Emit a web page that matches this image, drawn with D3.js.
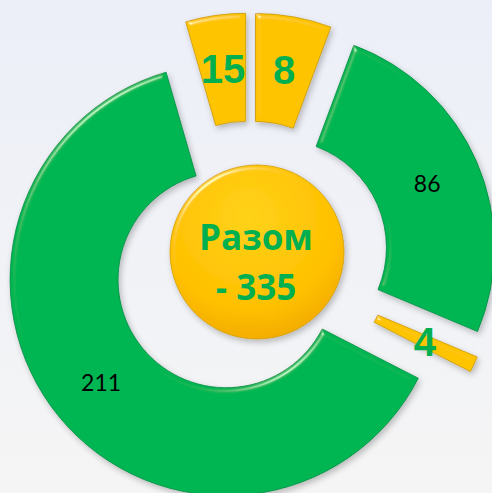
<!DOCTYPE html>
<html>
<head>
<meta charset="utf-8">
<script src="https://cdn.jsdelivr.net/npm/d3@7"></script>
<style>
  html, body { margin: 0; padding: 0; overflow: hidden; }
  svg { display: block; }
</style>
</head>
<body>
<svg id="chart"></svg>
<script>
// slice sizes, clockwise from 12 o'clock (slice widths)
const values = [19, 86, 4, 211, 15];
// the labels printed on the slices
const labels = ['8', '86', '4', '211', '15'];
const totalTitle = 'Разом';

const W = 492, H = 493;
const cx = 250, cy = 260;
const rIn = 108, rOut = 216;
const explode = 31;
const sliceColors = ['#ffc400', '#02b652', '#ffc400', '#02b652', '#ffc400'];

const svg = d3.select('#chart').attr('width', W).attr('height', H);
const defs = svg.append('defs');

const bg = defs.append('linearGradient').attr('id', 'bg')
  .attr('x1', 0).attr('y1', 0).attr('x2', 0).attr('y2', 1);
bg.append('stop').attr('offset', '0%').attr('stop-color', '#eceff8');
bg.append('stop').attr('offset', '100%').attr('stop-color', '#f5f5f5');

const ball = defs.append('radialGradient').attr('id', 'ball')
  .attr('cx', '45%').attr('cy', '30%').attr('r', '75%');
ball.append('stop').attr('offset', '0%').attr('stop-color', '#ffd21a');
ball.append('stop').attr('offset', '70%').attr('stop-color', '#ffc000');
ball.append('stop').attr('offset', '100%').attr('stop-color', '#f0a800');

// bevel + soft shadow, roughly like the office shape effect
const f = defs.append('filter').attr('id', 'bevel')
  .attr('x', '-10%').attr('y', '-10%').attr('width', '130%').attr('height', '130%');
f.append('feGaussianBlur').attr('in', 'SourceAlpha').attr('stdDeviation', 2.5).attr('result', 'blur');
const spec = f.append('feSpecularLighting').attr('in', 'blur')
  .attr('surfaceScale', 4).attr('specularConstant', 0.6).attr('specularExponent', 45)
  .attr('lighting-color', '#ffffff').attr('result', 'spec');
spec.append('feDistantLight').attr('azimuth', 235).attr('elevation', 30);
f.append('feComposite').attr('in', 'spec').attr('in2', 'SourceAlpha').attr('operator', 'in').attr('result', 'specIn');
f.append('feComposite').attr('in', 'SourceGraphic').attr('in2', 'specIn').attr('operator', 'arithmetic')
  .attr('k1', 0).attr('k2', 1).attr('k3', 0.8).attr('k4', 0).attr('result', 'lit');
f.append('feOffset').attr('in', 'SourceAlpha').attr('dx', 2).attr('dy', 3).attr('result', 'off');
f.append('feGaussianBlur').attr('in', 'off').attr('stdDeviation', 3).attr('result', 'offBlur');
f.append('feComponentTransfer').attr('in', 'offBlur').attr('result', 'shadow')
  .append('feFuncA').attr('type', 'linear').attr('slope', 0.25);
const m = f.append('feMerge');
m.append('feMergeNode').attr('in', 'shadow');
m.append('feMergeNode').attr('in', 'lit');

svg.append('rect').attr('width', W).attr('height', H).attr('fill', 'url(#bg)');

const pie = d3.pie().sort(null).value(d => d);
const arcs = pie(values);
const arc = d3.arc().innerRadius(rIn).outerRadius(rOut);

const shift = d => {
  const a = (d.startAngle + d.endAngle) / 2;
  return [cx + explode * Math.sin(a), cy - explode * Math.cos(a)];
};

const g = svg.append('g');

g.selectAll('.slice')
  .data(arcs)
  .enter().append('path')
  .attr('class', 'slice')
  .attr('transform', d => `translate(${shift(d)})`)
  .attr('d', arc)
  .attr('fill', (d, i) => sliceColors[i])
  .attr('stroke', (d, i) => sliceColors[i] === '#ffc400' ? '#c99700' : '#078a41')
  .attr('stroke-width', 0.8)
  .attr('filter', 'url(#bevel)');

// centre ball
svg.append('circle')
  .attr('cx', 257).attr('cy', 252).attr('r', 87)
  .attr('fill', 'url(#ball)')
  .attr('stroke', '#d39c00').attr('stroke-width', 0.8)
  .attr('filter', 'url(#bevel)');

const total = d3.sum(values);
svg.append('text')
  .attr('x', 256).attr('y', 250)
  .attr('text-anchor', 'middle')
  .style('font-family', '"Open Sans", "Liberation Sans", sans-serif')
  .style('font-weight', 'bold').style('font-size', '35px')
  .attr('fill', '#00b050')
  .text(totalTitle);
svg.append('text')
  .attr('x', 256).attr('y', 300)
  .attr('text-anchor', 'middle')
  .style('font-family', '"Open Sans", "Liberation Sans", sans-serif')
  .style('font-weight', 'bold').style('font-size', '35px')
  .attr('fill', '#00b050')
  .text('- ' + total);

// data labels at the centroid of each (exploded) slice
g.selectAll('.lbl')
  .data(arcs)
  .enter().append('text')
  .attr('class', 'lbl')
  .attr('transform', d => {
    const [sx, sy] = shift(d);
    const [x, y] = arc.centroid(d);
    return `translate(${sx + x},${sy + y})`;
  })
  .attr('text-anchor', 'middle')
  .attr('dy', '0.36em')
  .each(function (d, i) {
    const big = sliceColors[i] === '#ffc400';
    d3.select(this)
      .style('font-family', big ? '"Liberation Sans", Arial, sans-serif' : 'Lato, "Open Sans", sans-serif')
      .style('font-weight', big ? 'bold' : 'normal')
      .style('font-size', big ? '40px' : '23px')
      .attr('fill', big ? '#00b050' : '#000');
  })
  .text((d, i) => labels[i]);
</script>
</body>
</html>
